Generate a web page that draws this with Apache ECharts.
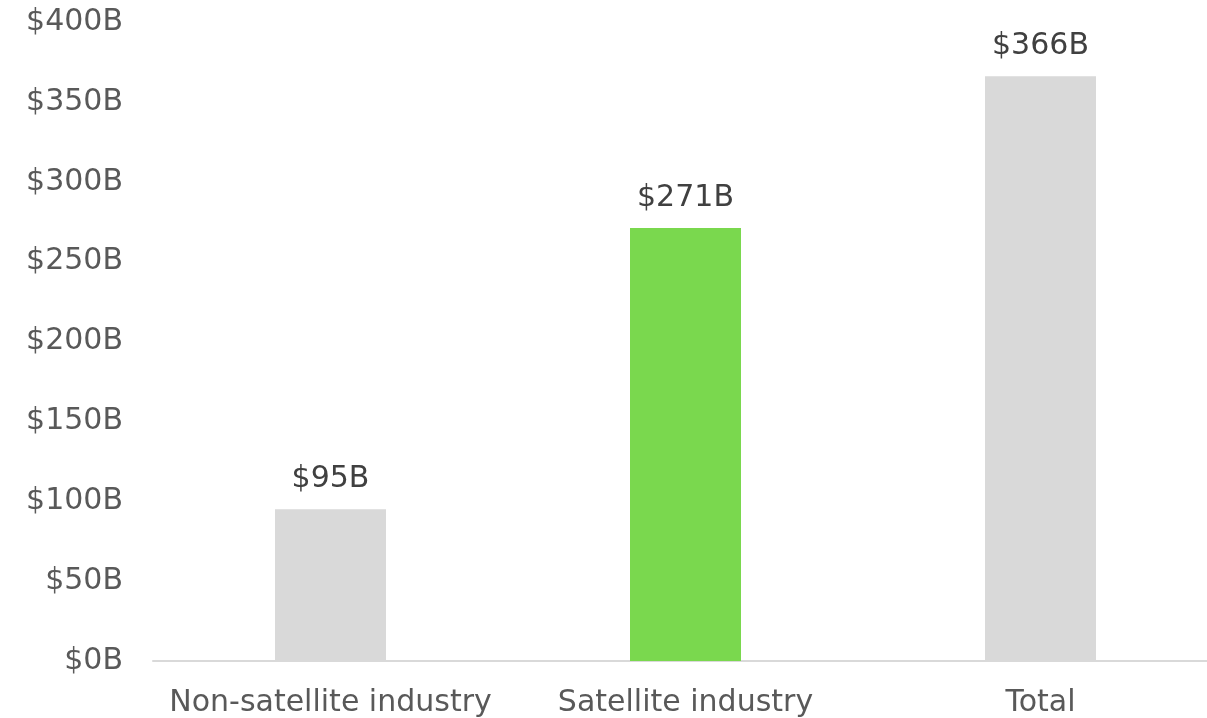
<!DOCTYPE html>
<html>
<head>
<meta charset="utf-8">
<script src="https://cdn.jsdelivr.net/npm/echarts@6/dist/echarts.min.js"></script>
<style>
  html, body { margin: 0; padding: 0; background: #ffffff; }
  #chart { width: 1207px; height: 718px; }
</style>
</head>
<body>
<div id="chart"></div>
<script>
// Market size by segment, in billions of dollars
const categories = ['Non-satellite industry', 'Satellite industry', 'Total'];
const values = [95, 271, 366];
const barColors = ['#d9d9d9', '#7ad84e', '#d9d9d9'];

const FONT = '"DejaVu Sans", sans-serif';

const chart = echarts.init(document.getElementById('chart'));
chart.setOption({
  animation: false,
  grid: { left: 153, top: 22, bottom: 57, width: 1065, outerBoundsMode: 'none', containLabel: false },
  xAxis: {
    type: 'category',
    data: categories,
    axisLine: { lineStyle: { color: '#d9d9d9', width: 2 } },
    axisTick: { show: false },
    axisLabel: { color: '#595959', fontSize: 30, fontFamily: FONT, margin: 27, interval: 0 }
  },
  yAxis: {
    type: 'value',
    min: 0,
    max: 400,
    interval: 50,
    axisLine: { show: false },
    axisTick: { show: false },
    splitLine: { show: false },
    axisLabel: {
      color: '#595959', fontSize: 30, fontFamily: FONT, margin: 30,
      formatter: v => '$' + v + 'B'
    }
  },
  series: [{
    type: 'bar',
    barWidth: 111,
    data: values.map((v, i) => ({ value: v, itemStyle: { color: barColors[i] } })),
    label: {
      show: true,
      position: 'top',
      distance: 15,
      color: '#404040',
      fontSize: 30,
      fontFamily: FONT,
      formatter: p => '$' + p.value + 'B'
    }
  }]
});
</script>
</body>
</html>
